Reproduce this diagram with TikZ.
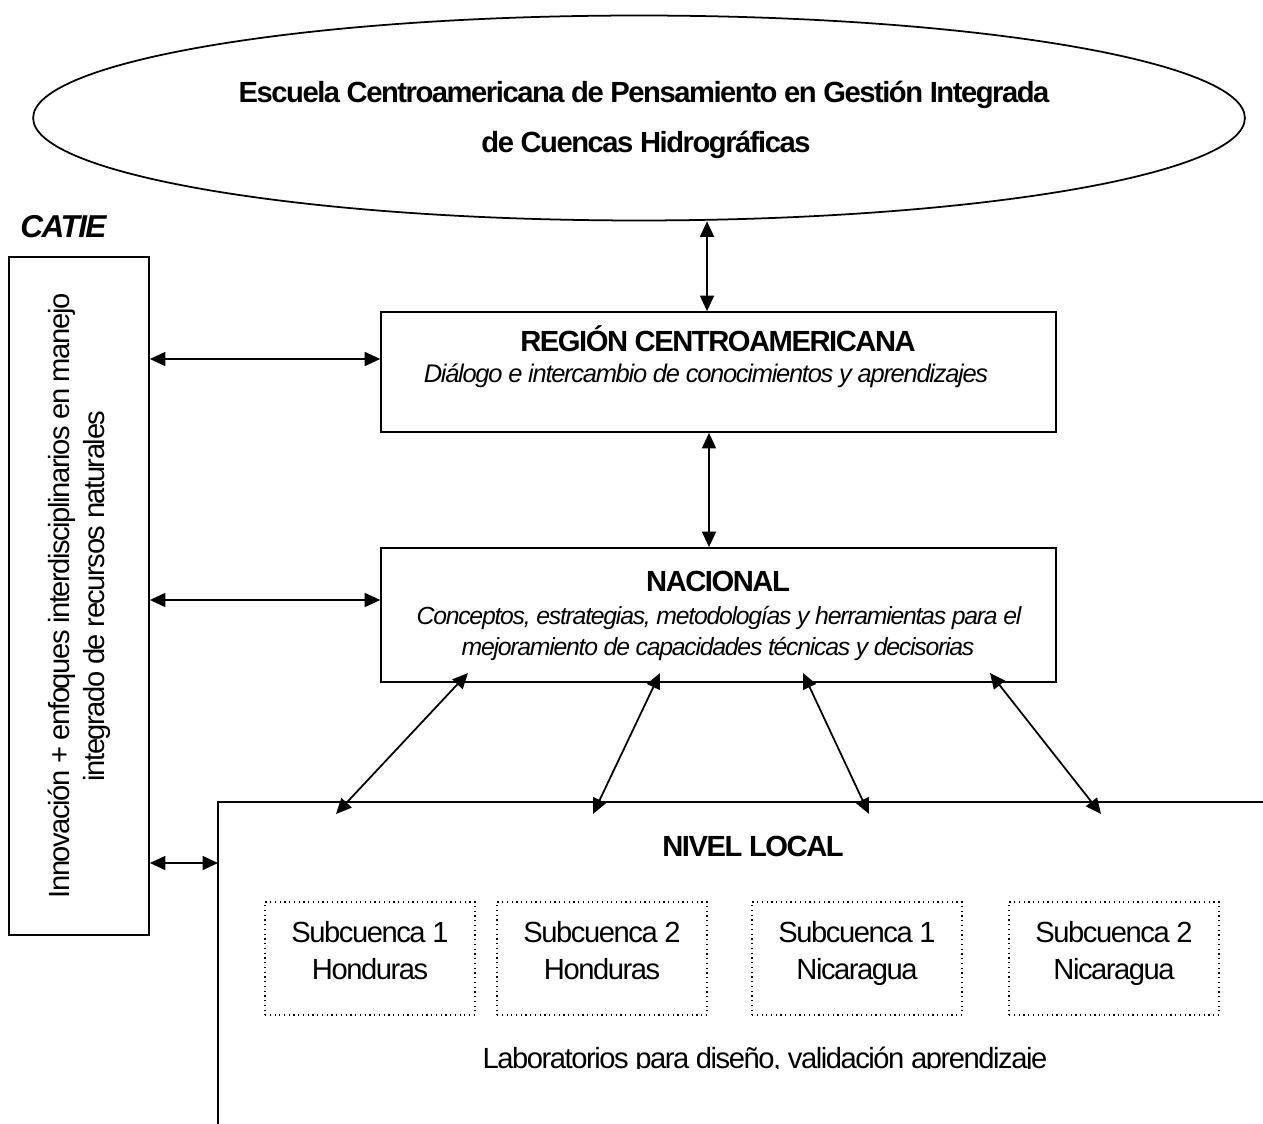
\documentclass[tikz,border=0pt]{standalone}
\usepackage{fontspec}
\setmainfont{Liberation Sans}[LetterSpace=-5]
\usetikzlibrary{arrows.meta,shapes.geometric}

\begin{document}
\begin{tikzpicture}[x=0.02cm, y=-0.02cm,
    box/.style={draw, line width=1pt, inner sep=0pt},
    subbox/.style={draw, dotted, line width=0.7pt, inner sep=0pt, minimum width=4.2cm, minimum height=2.26cm},
    link/.style={{Triangle[length=0.31cm,width=0.28cm]}-{Triangle[length=0.31cm,width=0.28cm]}, line width=1pt},
    head/.style={inner sep=0pt, font=\fontsize{16.6}{20}\selectfont\bfseries},
    txt/.style={inner sep=0pt, font=\fontsize{16.6}{20}\selectfont},
    note/.style={inner sep=0pt, font=\fontsize{14.5}{18}\selectfont\itshape}]
    \useasboundingbox (0,0) rectangle (1263,1124);

    \node[draw, ellipse, line width=1pt, minimum width=24.24cm, minimum height=4.1cm] (escuela) at (639,118) {};
    \node[head, anchor=base] (escuelatop) at (644,103) {Escuela Centroamericana de Pensamiento en Gestión Integrada};
    \node[head, anchor=base] (escuelabot) at (646,153) {de Cuencas Hidrográficas};

    \node[head, anchor=base west, font=\fontsize{18}{20}\selectfont\bfseries\itshape] (catie) at (20,238) {CATIE};
    \node[box, minimum width=2.8cm, minimum height=13.56cm] (catiebox) at (79,596) {};
    \node[txt, rotate=90, align=center] (catietext) at (catiebox.center)
        {Innovación + enfoques interdisciplinarios en manejo\\integrado de recursos naturales};

    \node[box, minimum width=13.5cm, minimum height=2.4cm] (region) at (718.5,372) {};
    \node[head, anchor=base] (regiontitle) at (718,352) {REGIÓN CENTROAMERICANA};
    \node[note, anchor=base] (regionnote) at (706,383) {Diálogo e intercambio de conocimientos y aprendizajes};

    \node[box, minimum width=13.5cm, minimum height=2.68cm] (nacional) at (718.5,615) {};
    \node[head, anchor=base] (nacionaltitle) at (718,591) {NACIONAL};
    \node[note, anchor=base, font=\fontsize{14.1}{18}\selectfont\itshape] (nacionalnotea) at (719,624) {Conceptos, estrategias, metodologías y herramientas para el};
    \node[note, anchor=base, font=\fontsize{14.1}{18}\selectfont\itshape] (nacionalnoteb) at (718,655) {mejoramiento de capacidades técnicas y decisorias};

    \coordinate (local) at (218,802);
    \draw[line width=1pt] (218,1124) -- (local) -- (1263,802);
    \node[head, anchor=base] (localtitle) at (753,856) {NIVEL LOCAL};

    \foreach \x/\n/\p [count=\i] in {370/1/Honduras, 602/2/Honduras, 857/1/Nicaragua, 1114/2/Nicaragua}{
        \node[subbox] (sub\i) at (\x,958.5) {};
        \node[txt, anchor=base] (subname\i) at (\x,942) {Subcuenca \n};
        \node[txt, anchor=base] (subplace\i) at (\x,979) {\p};
    }

    \begin{scope}
        \clip (218,1000) rectangle (1263,1068);
        \node[txt, anchor=base] (labs) at (765,1068) {Laboratorios para diseño, validación aprendizaje};
    \end{scope}

    \draw[link] (escuela.south -| 707,0) -- (region.north -| 707,0);
    \draw[link] (region.south -| 709,0) -- (nacional.north -| 709,0);
    \draw[link] (catiebox.east |- 0,359) -- (region.west |- 0,359);
    \draw[link] (catiebox.east |- 0,600) -- (nacional.west |- 0,600);
    \draw[link] (catiebox.east |- 0,863) -- (local |- 0,863);

    \foreach \a/\b [count=\i] in {468/336, 660/593, 803/869, 990/1101}{
        \coordinate (up\i) at (\a,673);
        \coordinate (down\i) at (\b,814);
        \draw[link] (up\i) -- (down\i);
    }
\end{tikzpicture}
\end{document}
